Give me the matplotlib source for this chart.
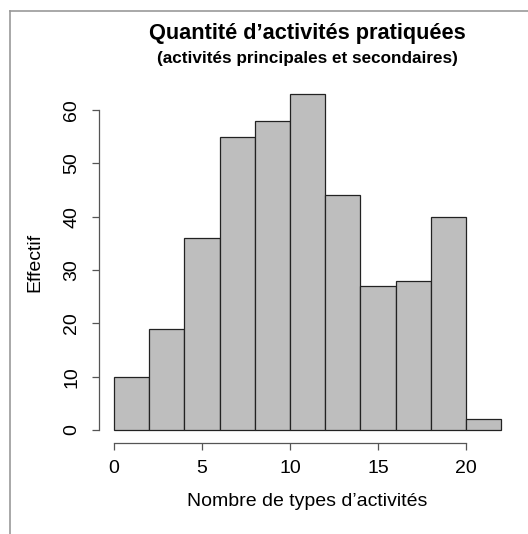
import numpy as np
import matplotlib
matplotlib.use("Agg")
from matplotlib import pyplot as plt
from matplotlib.lines import Line2D

# histogram data (bin edges, counts)
edges = [0, 2, 4, 6, 8, 10, 12, 14, 16, 18, 20, 22]
counts = [10, 19, 36, 55, 58, 63, 44, 27, 28, 40, 2]
xticks = [0, 5, 10, 15, 20]
yticks = [0, 10, 20, 30, 40, 50, 60]

title = "Quantité d’activités pratiquées"
subtitle = "(activités principales et secondaires)"
xlabel = "Nombre de types d’activités"
ylabel = "Effectif"

plt.rcParams['font.family'] = ['Liberation Sans', 'DejaVu Sans']

W, H = 528, 534
fig = plt.figure(figsize=(W / 100, H / 100), dpi=100)

# plot region in pixels (R style: 4% padding around the data range)
left, right, top, bottom = 98.5, 516.7, 80.6, 443.4
ax = fig.add_axes([left / W, 1 - bottom / H, (right - left) / W, (bottom - top) / H])

widths = np.diff(edges)
ax.bar(edges[:-1], counts, width=widths, align='edge',
       color='#bebebe', edgecolor='#222222', linewidth=0.9)

xr = edges[-1] - edges[0]
ax.set_xlim(edges[0] - 0.04 * xr, edges[-1] + 0.04 * xr)
ax.set_ylim(-0.04 * max(counts), max(counts) * 1.04)

for s in ['top', 'right']:
    ax.spines[s].set_visible(False)
ax.spines['left'].set_bounds(yticks[0], yticks[-1])
ax.spines['bottom'].set_bounds(xticks[0], xticks[-1])
for s in ['left', 'bottom']:
    ax.spines[s].set_color('#555555')
    ax.spines[s].set_linewidth(0.9)

ax.set_xticks(xticks)
ax.set_yticks(yticks)
ax.tick_params(direction='out', length=5, width=0.9, color='#555555',
               labelsize=14)
ax.tick_params(axis='x', pad=7)
ax.tick_params(axis='y', pad=8)
plt.setp(ax.get_yticklabels(), rotation=90, va='center')

ax.set_xlabel(xlabel, fontsize=14, va='center')
ax.set_ylabel(ylabel, fontsize=14, va='center')
ax.xaxis.set_label_coords(0.5, (bottom - 502) / (bottom - top))
ax.yaxis.set_label_coords((35 - left) / (right - left), 0.5)

cx = (left + right) / 2 / W
fig.text(cx, 1 - 33 / H, title, ha='center', va='center',
         fontsize=15.7, fontweight='bold')
fig.text(cx, 1 - 58 / H, subtitle, ha='center', va='center',
         fontsize=12.3, fontweight='bold')

# grey frame at top and left
fig.add_artist(Line2D([10 / W, 1], [1 - 11 / H, 1 - 11 / H], color='#999999', lw=1.2))
fig.add_artist(Line2D([10 / W, 10 / W], [0, 1 - 11 / H], color='#999999', lw=1.2))

fig.savefig("out.png", dpi=100)
